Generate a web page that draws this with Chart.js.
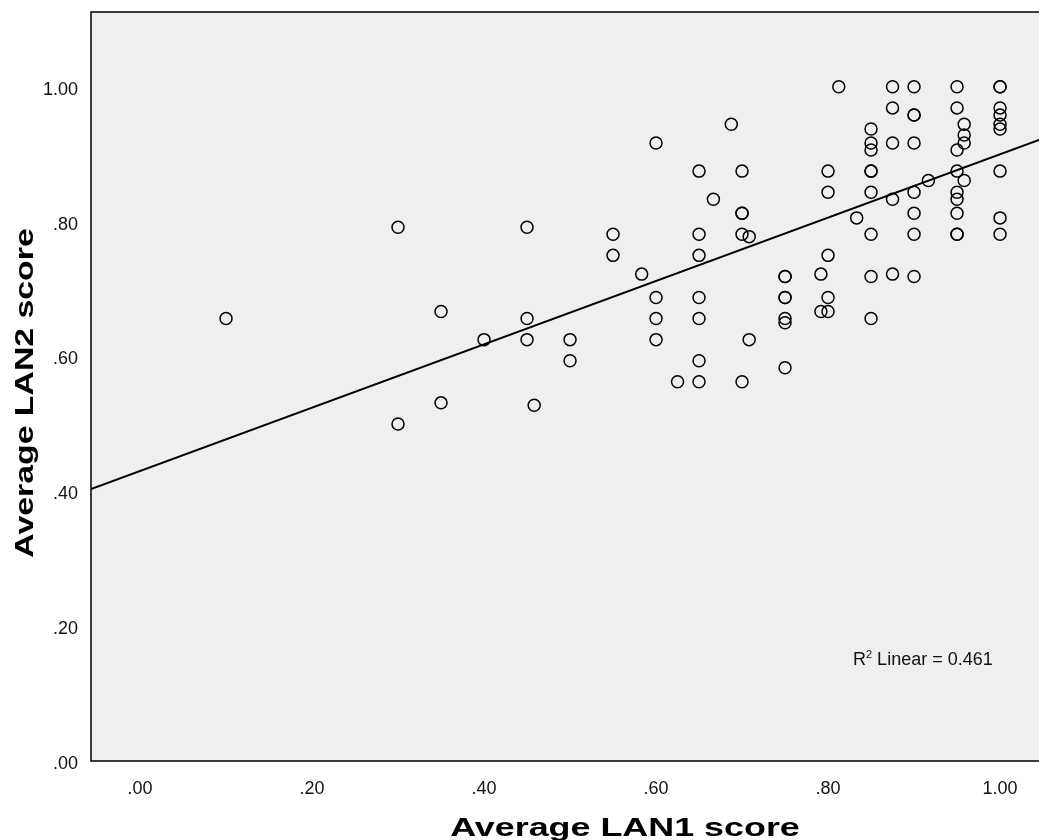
<!DOCTYPE html>
<html lang="en">
<head>
  <meta charset="UTF-8">
  <title>Average LAN1 vs LAN2 score</title>
  <script src="https://cdn.jsdelivr.net/npm/chart.js"></script>
  <style>
    html, body { margin: 0; padding: 0; background: #fff; }
    #wrap { width: 1039px; height: 840px; }
  </style>
</head>
<body>
  <div id="wrap"><canvas id="scatterChart" width="1039" height="840"></canvas></div>
  <script>
    // values (x = LAN1, y = LAN2), one entry per circle
    const lan1 = [
      0.8125, 0.875, 0.9, 0.95, 1, 1,
      0.875, 0.95, 1,
      0.9, 0.9, 1,
      0.9583, 1, 0.6875,
      0.85, 1,
      0.9583,
      0.6, 0.85, 0.875, 0.9, 0.9583,
      0.85, 0.95,
      0.65, 0.7, 0.8, 0.85, 0.85, 0.95, 1,
      0.9167, 0.9583,
      0.8, 0.85, 0.9, 0.95,
      0.6667, 0.875, 0.95,
      0.7, 0.7, 0.9, 0.95,
      0.8333, 1,
      0.3, 0.45,
      0.55, 0.65, 0.7, 0.85, 0.9, 0.95, 0.95, 1,
      0.7083,
      0.55, 0.65, 0.8,
      0.5833, 0.7917, 0.875,
      0.75, 0.75, 0.85, 0.9,
      0.6, 0.65, 0.75, 0.75, 0.8,
      0.35, 0.7917, 0.8,
      0.1, 0.45, 0.6, 0.65, 0.75, 0.85,
      0.75,
      0.4, 0.45, 0.5, 0.6, 0.7083,
      0.5, 0.65,
      0.75,
      0.625, 0.65, 0.7,
      0.35,
      0.4583,
      0.3
    ];
    const lan2 = [
      1, 1, 1, 1, 1, 1,
      0.96875, 0.96875, 0.96875,
      0.9583, 0.9583, 0.9583,
      0.9444, 0.9444, 0.9444,
      0.9375, 0.9375,
      0.9286,
      0.9167, 0.9167, 0.9167, 0.9167, 0.9167,
      0.90625, 0.90625,
      0.875, 0.875, 0.875, 0.875, 0.875, 0.875, 0.875,
      0.8611, 0.8611,
      0.84375, 0.84375, 0.84375, 0.84375,
      0.8333, 0.8333, 0.8333,
      0.8125, 0.8125, 0.8125, 0.8125,
      0.8056, 0.8056,
      0.7917, 0.7917,
      0.78125, 0.78125, 0.78125, 0.78125, 0.78125, 0.78125, 0.78125, 0.78125,
      0.7778,
      0.75, 0.75, 0.75,
      0.7222, 0.7222, 0.7222,
      0.71875, 0.71875, 0.71875, 0.71875,
      0.6875, 0.6875, 0.6875, 0.6875, 0.6875,
      0.6667, 0.6667, 0.6667,
      0.65625, 0.65625, 0.65625, 0.65625, 0.65625, 0.65625,
      0.65,
      0.625, 0.625, 0.625, 0.625, 0.625,
      0.59375, 0.59375,
      0.5833,
      0.5625, 0.5625, 0.5625,
      0.53125,
      0.5278,
      0.5
    ];
    const tickValues = [0, 0.2, 0.4, 0.6, 0.8, 1.0];
    // fit line as drawn in the picture
    const fitIntercept = 0.430;
    const fitSlope = 0.470;
    const fitLabel = 'Linear = 0.461';
    const xTitle = 'Average LAN1 score';
    const yTitle = 'Average LAN2 score';

    const xMin = -0.057, xMax = 1.0453;
    const yMin = 0, yMax = 1.111;

    const points = lan1.map((x, i) => ({ x: x, y: lan2[i] }));
    const fitLine = [xMin, xMax].map(x => ({ x: x, y: fitIntercept + fitSlope * x }));

    const fontFam = '"Liberation Sans", Arial, sans-serif';
    const fmt = v => v.toFixed(2).replace(/^0/, '');

    // no extra room for edge labels, the plot box is fixed
    const noPad = s => { s.paddingTop = 0; s.paddingBottom = 0; s.paddingLeft = 0; s.paddingRight = 0; };

    // grey plot area, frame, axis titles and R² note
    const framePlugin = {
      id: 'frame',
      beforeDraw(chart) {
        const { ctx, chartArea: a } = chart;
        ctx.save();
        ctx.fillStyle = '#efefef';
        ctx.fillRect(a.left, a.top, a.right - a.left + 2, a.bottom - a.top);
        ctx.restore();
      },
      afterDraw(chart) {
        const { ctx, chartArea: a } = chart;
        ctx.save();
        ctx.strokeStyle = '#000';
        ctx.lineWidth = 1.5;
        ctx.beginPath();
        ctx.moveTo(a.right + 2, a.top);
        ctx.lineTo(a.left, a.top);
        ctx.lineTo(a.left, a.bottom);
        ctx.lineTo(a.right + 2, a.bottom);
        ctx.stroke();

        // axis titles, drawn a bit wide like the SPSS export
        ctx.fillStyle = '#000';
        ctx.font = 'bold 26px ' + fontFam;
        ctx.textAlign = 'center';
        ctx.textBaseline = 'alphabetic';
        ctx.save();
        ctx.translate(625, 836);
        ctx.scale(1.38, 1);
        ctx.fillText(xTitle, 0, 0);
        ctx.restore();
        ctx.save();
        ctx.translate(33, 393);
        ctx.rotate(-Math.PI / 2);
        ctx.scale(1.3, 1);
        ctx.fillText(yTitle, 0, 0);
        ctx.restore();

        // R² Linear = 0.461
        ctx.fillStyle = '#111';
        ctx.textAlign = 'left';
        const x0 = 853, y0 = 665;
        ctx.font = '18px ' + fontFam;
        ctx.fillText('R', x0, y0);
        const rw = ctx.measureText('R').width;
        ctx.font = '11px ' + fontFam;
        ctx.fillText('2', x0 + rw, y0 - 7);
        const sw = ctx.measureText('2').width;
        ctx.font = '18px ' + fontFam;
        ctx.fillText(' ' + fitLabel, x0 + rw + sw, y0);
        ctx.restore();
      }
    };

    const ctx = document.getElementById('scatterChart').getContext('2d');
    new Chart(ctx, {
      type: 'scatter',
      data: {
        datasets: [
          {
            type: 'line',
            data: fitLine,
            borderColor: '#000',
            borderWidth: 2,
            pointRadius: 0,
            fill: false,
            order: 2
          },
          {
            data: points,
            pointStyle: 'circle',
            pointRadius: 6,
            borderColor: '#000',
            borderWidth: 1.5,
            backgroundColor: 'rgba(0,0,0,0)',
            order: 1
          }
        ]
      },
      options: {
        responsive: false,
        animation: false,
        devicePixelRatio: 1,
        layout: { autoPadding: false, padding: { top: 12, right: 0, bottom: 0, left: 0 } },
        plugins: {
          legend: { display: false },
          tooltip: { enabled: false }
        },
        scales: {
          x: {
            type: 'linear',
            min: xMin,
            max: xMax,
            afterBuildTicks: s => { s.ticks = tickValues.map(v => ({ value: v })); },
            afterFit: s => { s.height = 79; noPad(s); },
            grid: { display: false, drawTicks: false },
            border: { display: false },
            ticks: {
              padding: 17,
              color: '#111',
              font: { family: fontFam, size: 18 },
              callback: v => fmt(v)
            }
          },
          y: {
            type: 'linear',
            min: yMin,
            max: yMax,
            afterBuildTicks: s => { s.ticks = tickValues.map(v => ({ value: v })); },
            afterFit: s => { s.width = 91; noPad(s); },
            grid: { display: false, drawTicks: false },
            border: { display: false },
            ticks: {
              padding: 13,
              labelOffset: 3,
              color: '#111',
              font: { family: fontFam, size: 18 },
              callback: v => fmt(v)
            }
          }
        }
      },
      plugins: [framePlugin]
    });
  </script>
</body>
</html>
